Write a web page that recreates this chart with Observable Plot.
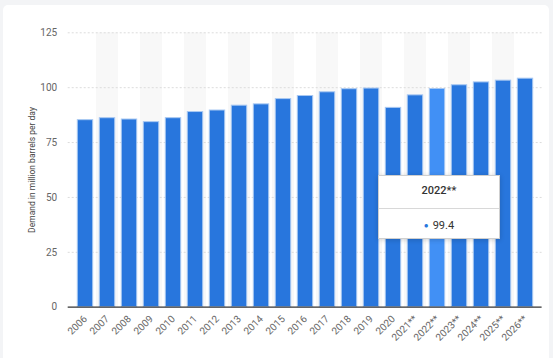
<!DOCTYPE html>
<html><head><meta charset="utf-8">
<script src="https://cdn.jsdelivr.net/npm/d3@7"></script>
<script src="https://cdn.jsdelivr.net/npm/@observablehq/plot@0.6"></script>
<style>
html,body{margin:0;padding:0;background:#f3f4f6;width:553px;height:358px;overflow:hidden;}
#card{position:absolute;left:3px;top:5px;width:546px;height:360px;background:#fff;border-radius:5px;}
#chart{position:absolute;left:0;top:0;}
#tip{position:absolute;left:378px;top:175px;width:120px;height:62px;background:#fff;border:1px solid #cfcfcf;box-shadow:0 1px 5px rgba(0,0,0,0.18);font-family:Roboto,Arial,sans-serif;color:#333;}
#tip .t{position:absolute;left:0;right:0;top:8px;text-align:center;font-size:11px;font-weight:500;}
#tip .sep{position:absolute;left:0;right:0;top:32px;border-top:1px solid #d8d8d8;}
#tip .v{position:absolute;left:0;right:0;top:43px;text-align:center;font-size:11px;}
#tip .v span.dot{color:#2876dd;font-size:8px;margin-right:4px;vertical-align:1px;}
</style></head><body>
<div id="card"></div>
<div id="chart"></div>
<div id="tip"><div class="t"></div><div class="sep"></div><div class="v"></div></div>
<script>
const years = ["2006","2007","2008","2009","2010","2011","2012","2013","2014","2015","2016","2017","2018","2019","2020","2021**","2022**","2023**","2024**","2025**","2026**"];
const demand = [85.2,86.1,85.5,84.3,86.1,88.9,89.6,91.8,92.4,94.8,96.2,97.9,99.3,99.6,90.8,96.5,99.4,101.1,102.4,103.2,104.1];
const yTicks = [0,25,50,75,100,125];
const highlight = "2022**";
const yLabel = "Demand in million barrels per day";

const data = years.map((y,i)=>({year:y, value:demand[i]}));
const shaded = years.filter((d,i)=>i%2===1);

const chart = Plot.plot({
  width:553, height:358,
  marginLeft:67.7, marginRight:11.4, marginTop:32.3, marginBottom:51.3,
  style:{fontFamily:"Roboto, Arial, sans-serif", fontSize:"10px", color:"#666", background:"transparent"},
  x:{domain:years, padding:0, tickRotate:-45, tickSize:0, tickPadding:10, label:null},
  y:{domain:[0,125], ticks:yTicks, tickSize:0, tickPadding:11, label:null},
  color:{type:"identity"},
  marks:[
    Plot.barY(shaded, {x:d=>d, y1:0, y2:125, fill:"#f8f8f8"}),
    Plot.gridY(yTicks.filter(d=>d>0), {stroke:"#dcdcdc", strokeOpacity:1, strokeDasharray:"2,2"}),
    Plot.barY(data, {x:"year", y:"value", fill:d=>d.year===highlight?"#4190f5":"#2876dd", stroke:"#a8c8f2", strokeWidth:1, insetLeft:3.3, insetRight:3.3}),
    Plot.ruleY([0], {stroke:"#333", strokeWidth:1.2}),
    Plot.text([yLabel], {text:d=>d, frameAnchor:"left", textAnchor:"middle", rotate:-90, dx:-35.7, fill:"#444", fontSize:8.5})
  ]
});
document.getElementById("chart").appendChild(chart);
const hi = data.find(d=>d.year===highlight);
document.querySelector("#tip .t").textContent = hi.year;
document.querySelector("#tip .v").innerHTML = '<span class="dot">\u25CF</span>' + hi.value;
</script>
</body></html>
